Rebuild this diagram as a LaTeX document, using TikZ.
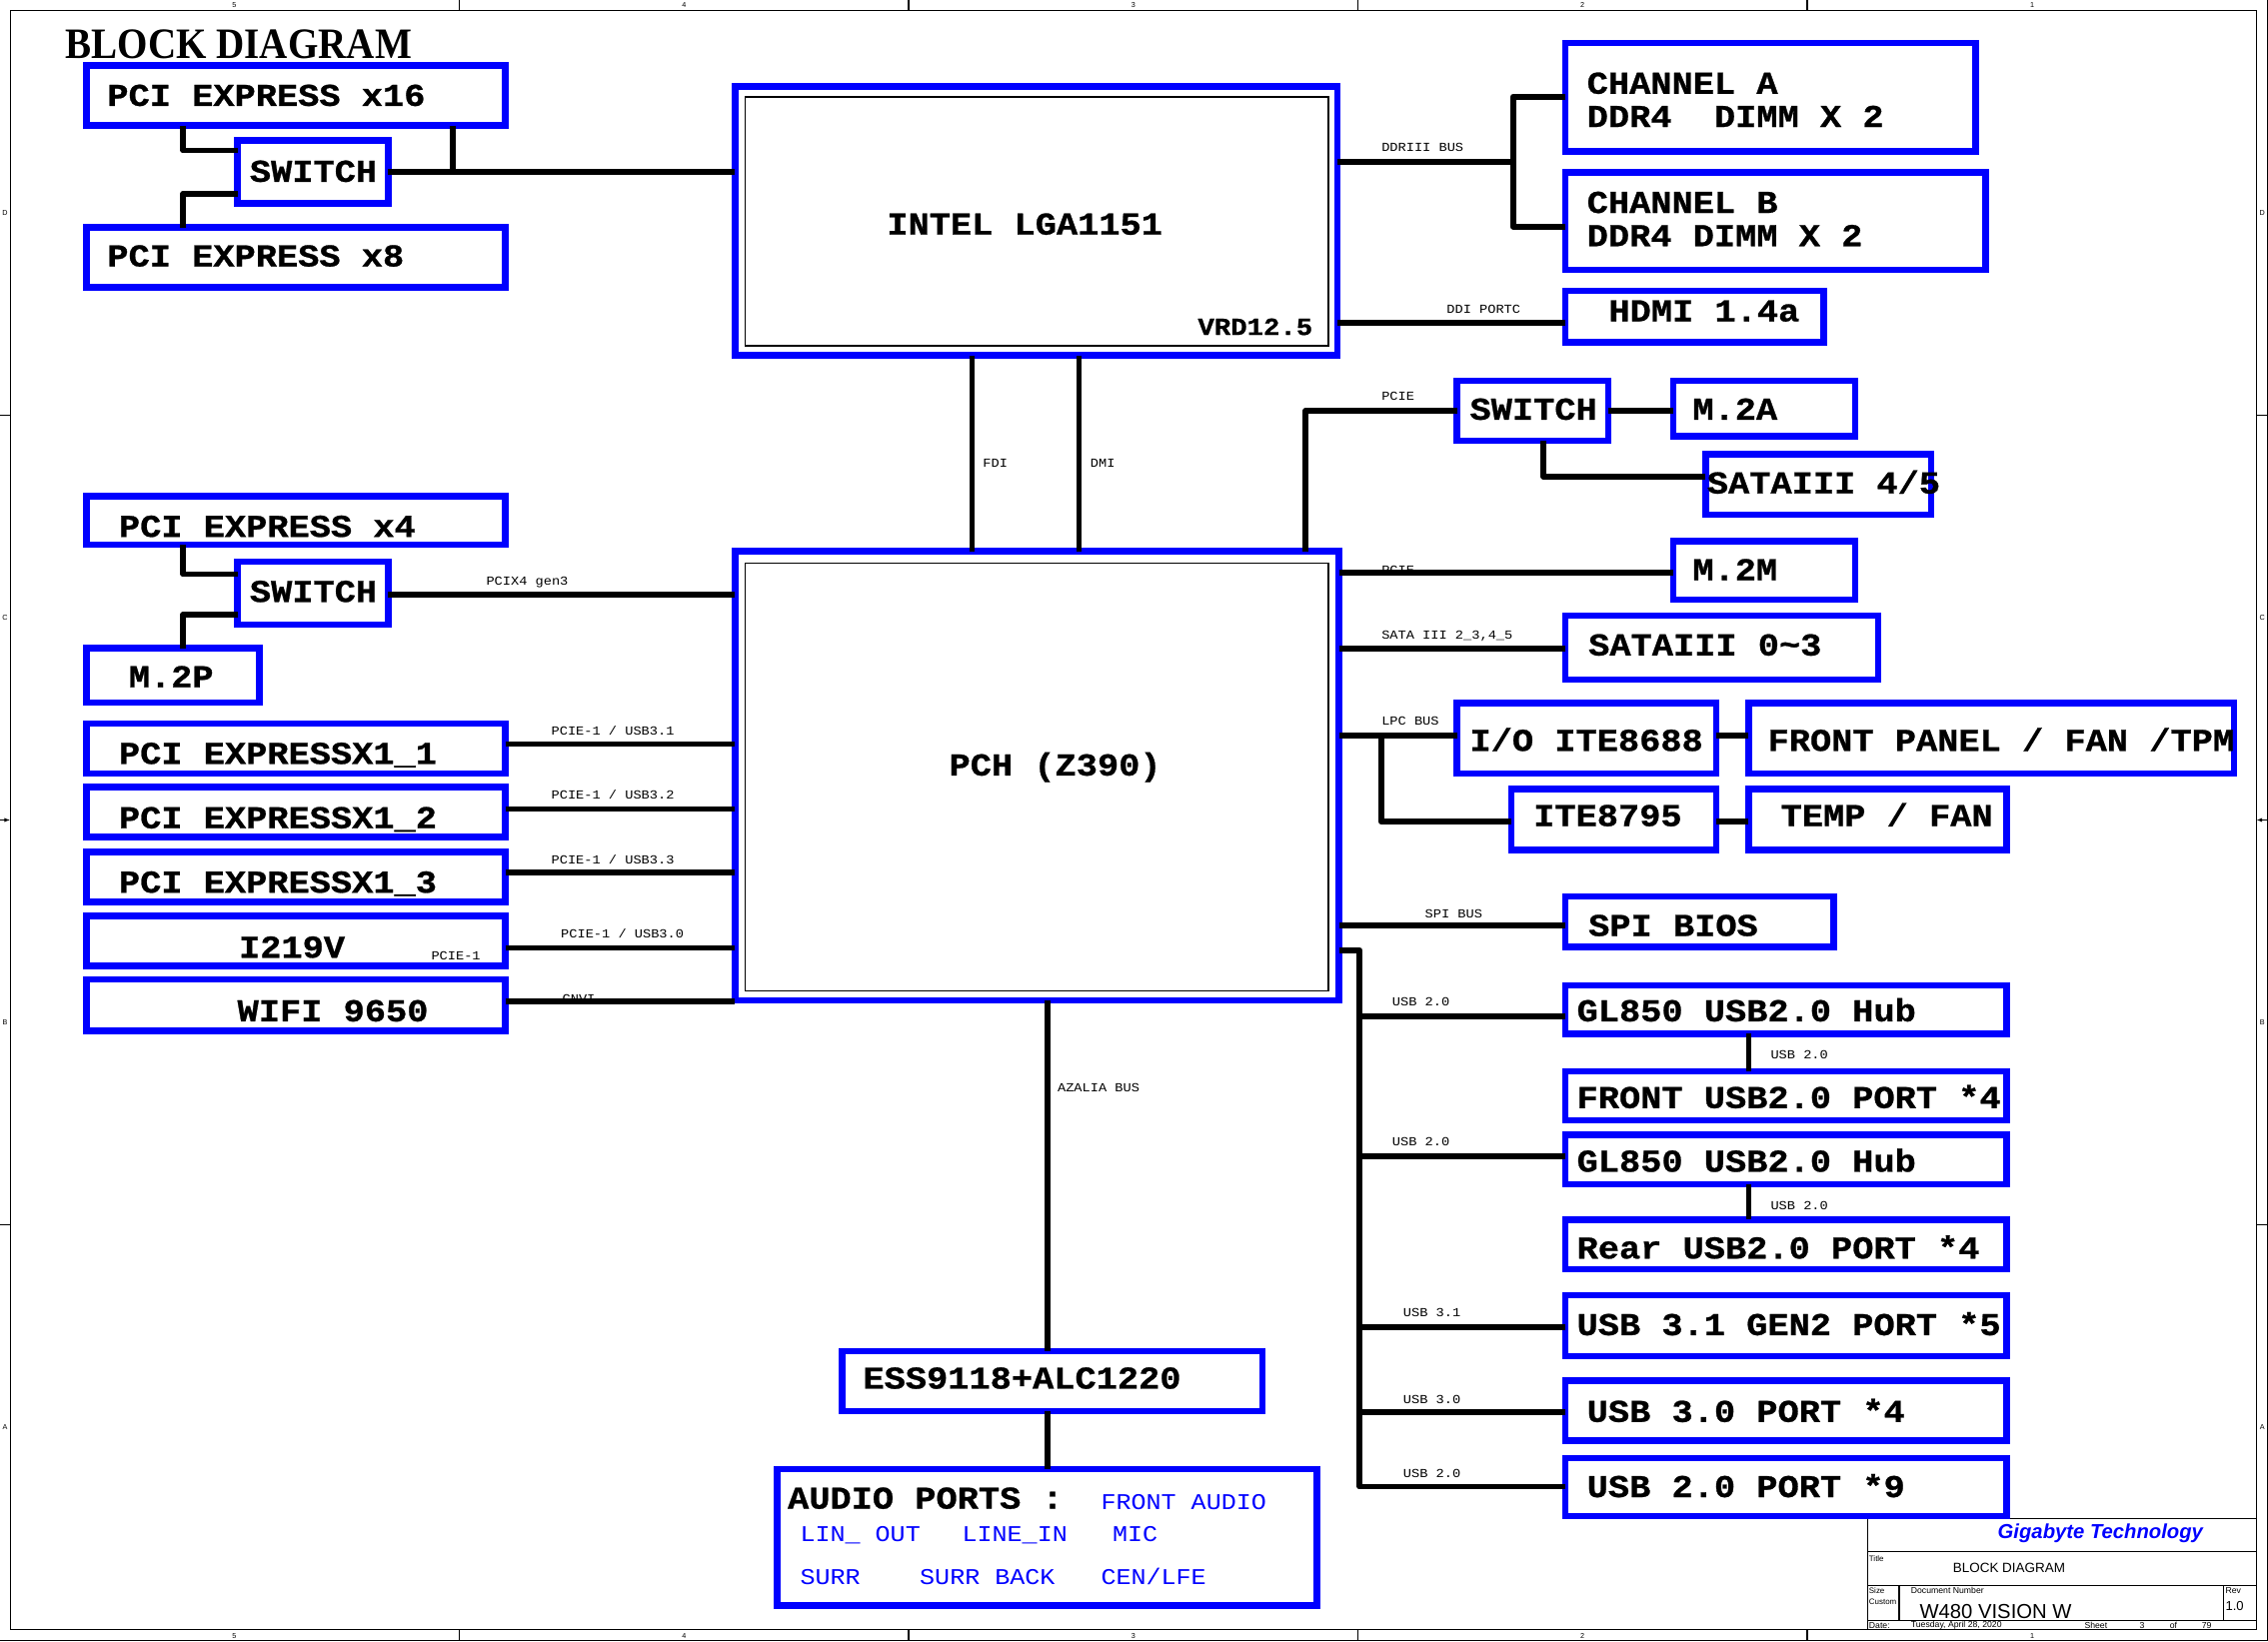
\documentclass[tikz,border=0pt]{standalone}
\usepackage{fontspec}
\setmainfont{Liberation Serif}
\newfontfamily\monof{Liberation Mono}[FakeStretch=1.11]
\newfontfamily\boxf{Liberation Mono}[FakeStretch=1.11, BoldFeatures={FakeBold=0.8}]
\newfontfamily\sansf{Liberation Sans}
\newfontfamily\headf{Liberation Serif}[FakeStretch=0.9]
\usetikzlibrary{arrows.meta}
\tikzset{
  blk/.style={draw=blue, line width=4.5pt, inner sep=0pt, outer sep=0pt},
  wire/.style={line width=4pt, line join=round},
  frame/.style={line width=0.8pt},
  bt/.style={font=\boxf\bfseries\fontsize{22}{24}\selectfont, inner sep=0pt, anchor=base west},
  lbl/.style={font=\monof\fontsize{8.5}{9}\selectfont, inner sep=0pt, anchor=base west},
  aud/.style={font=\monof\fontsize{15.6}{17}\selectfont, text=blue, inner sep=0pt, anchor=base west},
  tb/.style={font=\sansf\fontsize{6}{6}\selectfont, inner sep=0pt, anchor=west},
  fl/.style={font=\sansf\fontsize{5}{5}\selectfont, inner sep=0pt}
}
\newcommand\bbx[5]{\node[blk, minimum width={#4-#2-4.5}, minimum height={#5-#3-4.5}] (#1) at ({(#2+#4)/2},{(#3+#5)/2}) {};}
\newcommand\btx[4]{\node[bt] (#1) at (#2,{#3+7.2}) {#4};}
\newcommand\slb[4]{\node[lbl] (#1) at (#2,{#3+2.8}) {#4};}
\newcommand\aut[4]{\node[aud] (#1) at (#2,{#3+5.1}) {#4};}
\begin{document}
\begin{tikzpicture}[x=1pt,y=-1pt]
\useasboundingbox (0,0) rectangle (1568,1135);
\fill[white] (0,0) rectangle (1568,1135);
% ---------- frame ----------
\draw[frame] (7,7) rectangle (1560,1127);
\draw[frame] (0,1134.5) -- (1567.5,1134.5) -- (1567.5,0);
\foreach \xx in {317.6,628.2,938.8,1249.4}{
  \draw[frame] (\xx,0) -- (\xx,7);
  \draw[frame] (\xx,1127) -- (\xx,1134.5);
}
\foreach \yy in {287,847}{
  \draw[frame] (0,\yy) -- (7,\yy);
  \draw[frame] (1560,\yy) -- (1568,\yy);
}
\draw[frame,-{Latex[length=4pt,width=3pt]}] (0,567) -- (7,567);
\draw[frame,-{Latex[length=4pt,width=3pt]}] (1568,567) -- (1560,567);
\foreach \xx/\t [count=\i] in {162/5,473/4,783.5/3,1094/2,1405/1}{
  \node[fl] (ct\i) at (\xx,3.5) {\t};
  \node[fl] (cb\i) at (\xx,1131) {\t};
}
\foreach \yy/\t [count=\i] in {147/D,427/C,707/B,987/A}{
  \node[fl] (rl\i) at (3.5,\yy) {\t};
  \node[fl] (rr\i) at (1564,\yy) {\t};
}
% ---------- title block ----------
\draw[frame] (1291,1127) -- (1291,1050) -- (1560,1050);
\draw[frame] (1291,1073) -- (1560,1073);
\draw[frame] (1291,1096.5) -- (1560,1096.5);
\draw[frame] (1291,1120.5) -- (1560,1120.5);
\draw[frame] (1313,1096.5) -- (1313,1120.5);
\draw[frame] (1537,1096.5) -- (1537,1120.5);
\node[tb, font=\sansf\bfseries\itshape\fontsize{14}{14}\selectfont, text=blue] (gtech) at (1381,1060) {Gigabyte Technology};
\node[tb, font=\sansf\fontsize{5.5}{5.5}\selectfont] (ttitle) at (1292,1077.5) {Title};
\node[tb, font=\sansf\fontsize{9.3}{9.3}\selectfont] (tname) at (1350,1084) {BLOCK DIAGRAM};
\node[tb, font=\sansf\fontsize{5.5}{5.5}\selectfont] (tsize) at (1292,1100) {Size};
\node[tb, font=\sansf\fontsize{5.5}{5.5}\selectfont] (tcust) at (1292,1107.5) {Custom};
\node[tb] (tdoc) at (1321,1100) {Document Number};
\node[tb, font=\sansf\fontsize{14}{14}\selectfont] (tw480) at (1327,1114) {W480 VISION W};
\node[tb] (trev) at (1538.5,1100) {Rev};
\node[tb, font=\sansf\fontsize{9}{9}\selectfont] (trevv) at (1538.5,1110.5) {1.0};
\node[tb] (tdate) at (1292,1124) {Date:};
\node[tb] (tdatev) at (1321,1124) {Tuesday, April 28, 2020};
\node[tb] (tsheet) at (1441,1124) {Sheet};
\node[tb] (tsn) at (1479,1124) {3};
\node[tb] (tof) at (1500,1124) {of};
\node[tb] (ttot) at (1522,1124) {79};
% ---------- heading ----------
\node[inner sep=0pt, anchor=base west, font=\headf\bfseries\fontsize{30}{30}\selectfont] (head) at (45.2,40.3) {BLOCK DIAGRAM};
% ---------- boxes ----------
\bbx{pcie16}{57.6}{43}{351.7}{89}
\bbx{sw1}{162}{95}{270.7}{143}
\bbx{pcie8}{57.6}{155}{351.7}{201}
\bbx{pcie4}{57.6}{341}{351.7}{379}
\bbx{sw2}{162}{386}{270.7}{434}
\bbx{m2p}{57.6}{446}{181.6}{488}
\bbx{x11}{57.6}{498}{351.7}{537}
\bbx{x12}{57.6}{542}{351.7}{581}
\bbx{x13}{57.6}{587}{351.7}{626}
\bbx{i219}{57.6}{631}{351.7}{670}
\bbx{wifi}{57.6}{675}{351.7}{715}
\bbx{intel}{506}{57.6}{927}{248}
\bbx{pch}{506}{379}{928}{694}
\draw[line width=1pt] (515,67) rectangle (918.4,239);
\draw[line width=1pt] (515,389.5) rectangle (918.5,685);
\bbx{chA}{1080}{27.5}{1368}{107}
\bbx{chB}{1080}{117}{1375}{189}
\bbx{hdmi}{1080}{199}{1263}{239}
\bbx{sw3}{1005}{261}{1114}{307}
\bbx{m2a}{1154.6}{261}{1284.8}{304}
\bbx{sata45}{1177}{312}{1337.4}{358}
\bbx{m2m}{1154.6}{372}{1284.8}{417}
\bbx{sata03}{1080}{423.5}{1300.7}{472}
\bbx{io}{1005}{484}{1188.7}{537}
\bbx{fp}{1206.7}{484}{1546.7}{537}
\bbx{ite}{1042.5}{543.5}{1188.7}{590}
\bbx{temp}{1206.7}{543.5}{1389.5}{590}
\bbx{spi}{1080}{617.5}{1270}{657}
\bbx{gl1}{1080}{679}{1389.6}{717}
\bbx{fusb}{1080}{738.5}{1389.6}{777}
\bbx{gl2}{1080}{782.5}{1389.6}{821}
\bbx{rusb}{1080}{841}{1389.6}{880}
\bbx{u31}{1080}{893.5}{1389.6}{940}
\bbx{u30}{1080}{952.5}{1389.6}{998.5}
\bbx{u20}{1080}{1006}{1389.6}{1050.5}
\bbx{ess}{580}{932}{875}{978}
\bbx{audio}{535}{1013.5}{912.6}{1112.5}
% ---------- wires ----------
\coordinate (a1) at (126.6,104);
\coordinate (a2) at (126.6,134);
\coordinate (a3) at (270,119);
\coordinate (a4) at (313.2,119);
\coordinate (a5) at (126.6,397);
\coordinate (a6) at (126.6,425);
\coordinate (a7) at (270,411);
\draw[wire] (pcie16.south -| a1) -- (a1) -- (sw1.west |- a1);
\draw[wire] (sw1.west |- a2) -- (a2) -- (pcie8.north -| a2);
\draw[wire] (sw1.east |- a3) -- (intel.west |- a3);
\draw[wire] (pcie16.south -| a4) -- (a4);
\draw[wire] (pcie4.south -| a5) -- (a5) -- (sw2.west |- a5);
\draw[wire] (sw2.west |- a6) -- (a6) -- (m2p.north -| a6);
\draw[wire] (sw2.east |- a7) -- (pch.west |- a7);
\coordinate (b1) at (352,514.5);
\coordinate (b2) at (352,559.4);
\coordinate (b3) at (352,603.5);
\coordinate (b4) at (352,655.4);
\coordinate (b5) at (352,692.5);
\draw[wire] (x11.east |- b1) -- (pch.west |- b1);
\draw[wire] (x12.east |- b2) -- (pch.west |- b2);
\draw[wire] (x13.east |- b3) -- (pch.west |- b3);
\draw[wire] (i219.east |- b4) -- (pch.west |- b4);
\draw[wire] (wifi.east |- b5) -- (pch.west |- b5);
\coordinate (c1) at (672,300);
\coordinate (c2) at (746,300);
\draw[wire] (intel.south -| c1) -- (pch.north -| c1);
\draw[wire] (intel.south -| c2) -- (pch.north -| c2);
\coordinate (c3) at (902.6,284);
\coordinate (c4) at (1067,329.5);
\draw[wire] (pch.north -| c3) -- (c3) -- (sw3.west |- c3);
\draw[wire] (sw3.east |- c3) -- (m2a.west |- c3);
\draw[wire] (sw3.south -| c4) -- (c4) -- (sata45.west |- c4);
\coordinate (d1) at (1046,112);
\coordinate (d2) at (1046,66.8);
\coordinate (d3) at (1046,156.6);
\coordinate (d4) at (1000,223.4);
\draw[wire] (intel.east |- d1) -- (d1);
\draw[wire] (chA.west |- d2) -- (d2) -- (d3) -- (chB.west |- d3);
\draw[wire] (intel.east |- d4) -- (hdmi.west |- d4);
\coordinate (e0) at (1000,396);
\coordinate (e3) at (1000,448.5);
\coordinate (e1) at (955,508.5);
\coordinate (e2) at (955,568.3);
\coordinate (e4) at (1000,640);
\draw[wire] (pch.east |- e0) -- (m2m.west |- e0);
\draw[wire] (pch.east |- e3) -- (sata03.west |- e3);
\draw[wire] (pch.east |- e1) -- (io.west |- e1);
\draw[wire] (e1) -- (e2) -- (ite.west |- e2);
\draw[wire] (io.east |- e1) -- (fp.west |- e1);
\draw[wire] (ite.east |- e2) -- (temp.west |- e2);
\draw[wire] (pch.east |- e4) -- (spi.west |- e4);
\coordinate (u0) at (940,657);
\coordinate (u1) at (940,703);
\coordinate (u2) at (940,799.6);
\coordinate (u3) at (940,917.7);
\coordinate (u4) at (940,976.5);
\coordinate (u5) at (940,1028);
\draw[wire] (pch.east |- u0) -- (u0) -- (u5) -- (u20.west |- u5);
\draw[wire] (u1) -- (gl1.west |- u1);
\draw[wire] (u2) -- (gl2.west |- u2);
\draw[wire] (u3) -- (u31.west |- u3);
\draw[wire] (u4) -- (u30.west |- u4);
\coordinate (h1) at (1209,760);
\draw[wire] (gl1.south -| h1) -- (fusb.north -| h1);
\draw[wire] (gl2.south -| h1) -- (rusb.north -| h1);
\coordinate (z1) at (724,900);
\draw[wire] (pch.south -| z1) -- (ess.north -| z1);
\draw[wire] (ess.south -| z1) -- (audio.north -| z1);
% ---------- box texts ----------
\btx{t16}{74}{66}{PCI EXPRESS x16}
\btx{tsw1}{172.5}{118.5}{SWITCH}
\btx{t8}{74}{177}{PCI EXPRESS x8}
\btx{t4}{82}{364}{PCI EXPRESS x4}
\btx{tsw2}{172.5}{409}{SWITCH}
\btx{tm2p}{88.8}{468}{M.2P}
\btx{tx11}{82}{521}{PCI EXPRESSX1\_1}
\btx{tx12}{82}{565.5}{PCI EXPRESSX1\_2}
\btx{tx13}{82}{610}{PCI EXPRESSX1\_3}
\btx{ti219}{165}{655}{I219V}
\btx{twifi}{164}{699}{WIFI 9650}
\btx{tintel}{613}{155}{INTEL LGA1151}
\node[bt, font=\boxf\bfseries\fontsize{17}{18}\selectfont] (tvrd) at (828,{226+5.6}) {VRD12.5};
\btx{tpch}{656}{529}{PCH (Z390)}
\btx{tcha1}{1097}{57.6}{CHANNEL A}
\btx{tcha2}{1097}{80.6}{DDR4\ \ DIMM X 2}
\btx{tchb1}{1097}{140}{CHANNEL B}
\btx{tchb2}{1097}{163}{DDR4 DIMM X 2}
\btx{thdmi}{1112}{215}{HDMI 1.4a}
\btx{tsw3}{1016}{283}{SWITCH}
\btx{tm2a}{1170}{283}{M.2A}
\btx{ts45}{1180}{334}{SATAIII 4/5}
\btx{tm2m}{1170}{394}{M.2M}
\btx{ts03}{1098}{446}{SATAIII 0\textasciitilde 3}
\btx{tio}{1016}{512}{I/O ITE8688}
\btx{tfp}{1222}{512}{FRONT PANEL / FAN /TPM}
\btx{tite}{1060}{564}{ITE8795}
\btx{ttemp}{1231}{564}{TEMP / FAN}
\btx{tspi}{1098}{640}{SPI BIOS}
\btx{tgl1}{1090}{699}{GL850 USB2.0 Hub}
\btx{tfusb}{1090}{759}{FRONT USB2.0 PORT *4}
\btx{tgl2}{1090}{803}{GL850 USB2.0 Hub}
\btx{trusb}{1090}{863}{Rear USB2.0 PORT *4}
\btx{tu31}{1090}{916}{USB 3.1 GEN2 PORT *5}
\btx{tu30}{1097}{976}{USB 3.0 PORT *4}
\btx{tu20}{1097}{1028}{USB 2.0 PORT *9}
\btx{tess}{596.5}{953}{ESS9118+ALC1220}
\btx{taud}{544.4}{1036}{AUDIO PORTS :}
\aut{afront}{761}{1038.5}{FRONT AUDIO}
\aut{alout}{553}{1060.5}{LIN\_ OUT}
\aut{alin}{665}{1060.5}{LINE\_IN}
\aut{amic}{769}{1060.5}{MIC}
\aut{asurr}{553}{1090.5}{SURR}
\aut{asb}{635.7}{1090.5}{SURR BACK}
\aut{acen}{761}{1090.5}{CEN/LFE}
% ---------- small labels ----------
\slb{lddr}{955}{102}{DDRIII BUS}
\slb{lddi}{1000}{214}{DDI PORTC}
\slb{lpcie1}{955}{274}{PCIE}
\slb{lfdi}{679.4}{320}{FDI}
\slb{ldmi}{753.7}{320}{DMI}
\slb{lx4}{336}{402}{PCIX4 gen3}
\slb{l31}{381}{505.7}{PCIE-1 / USB3.1}
\slb{l32}{381}{550}{PCIE-1 / USB3.2}
\slb{l33}{381}{594.5}{PCIE-1 / USB3.3}
\slb{l30}{387.6}{646}{PCIE-1 / USB3.0}
\slb{li219}{298}{661}{PCIE-1}
\slb{lcnvi}{388.6}{691}{CNVI}
\slb{lpcie2}{955}{394.5}{PCIE}
\slb{lsata}{955}{439}{SATA III 2\_3,4\_5}
\slb{llpc}{955}{498.5}{LPC BUS}
\slb{lspi}{985}{632}{SPI BUS}
\slb{lu1}{962.4}{692.5}{USB 2.0}
\slb{lu2}{962.4}{789.5}{USB 2.0}
\slb{lu3}{970}{907.5}{USB 3.1}
\slb{lu4}{970}{967.5}{USB 3.0}
\slb{lu5}{970}{1019}{USB 2.0}
\slb{lh1}{1224}{729.5}{USB 2.0}
\slb{lh2}{1224}{833.5}{USB 2.0}
\slb{laz}{731}{752}{AZALIA BUS}
\end{tikzpicture}
\end{document}
